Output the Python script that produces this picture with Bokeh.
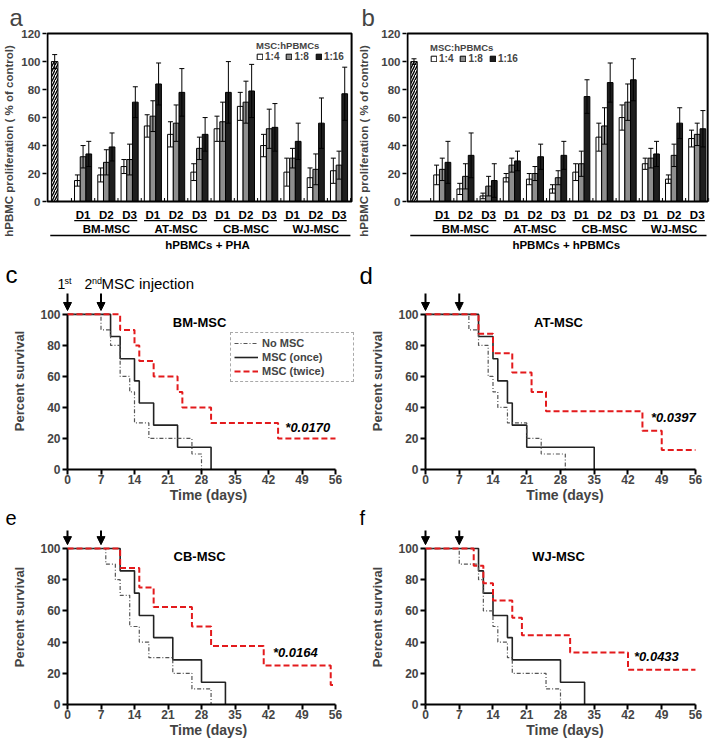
from bokeh.plotting import figure
from bokeh.layouts import column, row
from bokeh.models import (Legend, LegendItem, FixedTicker, Arrow, NormalHead,
                          Whisker, TeeHead, ColumnDataSource)
from bokeh.core.properties import value
from bokeh.embed import file_html
from bokeh.resources import INLINE

FONT = "Liberation Sans"

# ---------------- data: bar panels ----------------
msc_types = ["BM-MSC", "AT-MSC", "CB-MSC", "WJ-MSC"]
day_labels = ["D1", "D2", "D3"]
ratio_labels = ["1:4", "1:8", "1:16"]
ratio_colors = ["#ffffff", "#8e8e8e", "#1e1e1e"]

# panel a: hPBMCs + PHA (order: BM D1-D3, AT D1-D3, CB D1-D3, WJ D1-D3)
a_control, a_control_err = 100, 5
a_r4 = [15, 19, 25, 54, 48, 21, 52, 68, 40, 21, 17, 22]
a_r4_err = [4, 5, 5, 8, 9, 6, 9, 10, 8, 10, 7, 9]
a_r8 = [32, 28, 30, 61, 56, 38, 57, 71, 52, 31, 23, 26]
a_r8_err = [8, 9, 11, 11, 13, 8, 14, 15, 14, 7, 11, 10]
a_r16 = [34, 39, 71, 84, 78, 48, 78, 79, 53, 43, 56, 77]
a_r16_err = [9, 10, 11, 15, 17, 12, 22, 19, 17, 13, 18, 19]

# panel b: hPBMCs + hPBMCs
b_control, b_control_err = 100, 2
b_r4 = [19, 9, 4, 17, 16, 9, 21, 46, 60, 27, 16, 45]
b_r4_err = [7, 4, 2, 3, 4, 3, 6, 10, 9, 4, 3, 6]
b_r8 = [23, 18, 11, 26, 20, 17, 27, 54, 71, 31, 33, 48]
b_r8_err = [8, 9, 7, 5, 5, 5, 9, 13, 13, 7, 8, 8]
b_r16 = [28, 33, 15, 29, 32, 33, 75, 85, 87, 34, 56, 52]
b_r16_err = [15, 16, 12, 7, 9, 10, 12, 14, 15, 9, 11, 13]

# ---------------- data: survival panels ----------------
injection_days = [0, 7]
surv_ticks = [0, 7, 14, 21, 28, 35, 42, 49, 56]

c_none_t = [7, 9, 11, 13, 14, 17, 26, 28]
c_none_s = [90, 80, 60, 50, 30, 20, 10, 0]
c_once_t = [9, 11, 14, 15, 18, 23, 30]
c_once_s = [85.7, 71.4, 57.1, 42.9, 28.6, 14.3, 0]
c_twice_t = [11, 14, 15, 18, 23, 24, 30, 44]
c_twice_s = [90, 80, 70, 60, 50, 40, 30, 20]

d_none_t = [9, 11, 13, 14, 15, 17, 21, 24, 29]
d_none_s = [90, 80, 60, 50, 40, 30, 20, 10, 0]
d_once_t = [11, 14, 15, 17, 18, 21, 35]
d_once_s = [85.7, 71.4, 57.1, 42.9, 28.6, 14.3, 0]
d_twice_t = [11, 14, 18, 22, 25, 45, 49]
d_twice_s = [87.5, 75, 62.5, 50, 37.5, 25, 12.5]

e_none_t = [8, 10, 11, 13, 15, 17, 22, 26, 30]
e_none_s = [90, 80, 70, 50, 40, 30, 20, 10, 0]
e_once_t = [11, 14, 15, 18, 22, 28, 33]
e_once_s = [85.7, 71.4, 57.1, 42.9, 28.6, 14.3, 0]
e_twice_t = [11, 15, 18, 26, 30, 41, 55]
e_twice_s = [87.5, 75, 62.5, 50, 37.5, 25, 12.5]

f_none_t = [7, 11, 12, 14, 15, 17, 18, 25, 28]
f_none_s = [90, 80, 60, 50, 40, 30, 20, 10, 0]
f_once_t = [11, 12, 14, 17, 18, 28, 33]
f_once_s = [85.7, 71.4, 57.1, 42.9, 28.6, 14.3, 0]
f_twice_t = [10, 12, 14, 18, 20, 30, 42]
f_twice_s = [88.9, 77.8, 66.7, 55.6, 44.4, 33.3, 22.2]

p_values = ["*0.0170", "*0.0397", "*0.0164", "*0.0433"]


def txt(p, x, y, s, size, style="bold", align="center", baseline="middle"):
    p.text(x=[x], y=[y], text=[s], text_font=value(FONT), text_font_size=size,
           text_font_style=style, text_align=align, text_baseline=baseline, text_color="black")


def bar_panel(letter, series, errs, control, control_err, bottom_title, b_left, b_right,
              x_range, box, legend_xy, ylab_standoff, title_offset):
    p = figure(width=355, height=250, title=letter, x_range=x_range, y_range=(-35, 121.5),
               x_axis_location=None, output_backend="svg", toolbar_location=None,
               min_border_left=b_left, min_border_right=b_right,
               min_border_top=31, min_border_bottom=0)
    p.title.align = "left"
    p.title.offset = title_offset
    p.title.standoff = 2
    p.title.text_font = FONT
    p.title.text_font_size = "24px"
    p.title.text_font_style = "normal"
    p.grid.visible = False
    p.outline_line_color = None
    ax = p.yaxis[0]
    ax.ticker = FixedTicker(ticks=[0, 20, 40, 60, 80, 100, 120])
    ax.bounds = (0, 137)
    ax.axis_line_color = None
    ax.major_tick_out = 4
    ax.major_tick_in = 0
    ax.major_tick_line_width = 1.5
    ax.minor_tick_line_color = None
    ax.major_label_standoff = 2
    ax.major_label_text_font = FONT
    ax.major_label_text_font_style = "bold"
    ax.major_label_text_font_size = "11.5px"
    ax.axis_label = "hPBMC proliferation ( % of control)"
    ax.axis_label_text_font = FONT
    ax.axis_label_text_font_style = "bold"
    ax.axis_label_text_font_size = "11.5px"
    ax.axis_label_standoff = ylab_standoff

    centers = list(range(1, 13))
    p.vbar(x=[-0.22], top=[control], width=0.28, bottom=0, fill_color="white",
           line_color="black", line_width=1, hatch_pattern="right_diagonal_line",
           hatch_color="black", hatch_scale=5, hatch_weight=1.4)
    bx, up, lo = [-0.22], [control + control_err], [control - control_err]
    renderers = []
    for k in range(3):
        xs = [c + (k - 1) * 0.245 for c in centers]
        r = p.vbar(x=xs, top=series[k], bottom=0, width=0.245, fill_color=ratio_colors[k],
                   line_color="black", line_width=1)
        renderers.append(r)
        bx += xs
        up += [v + e for v, e in zip(series[k], errs[k])]
        lo += [v - e for v, e in zip(series[k], errs[k])]
    src = ColumnDataSource(dict(base=bx, upper=up, lower=lo))
    w = Whisker(source=src, base="base", upper="upper", lower="lower", dimension="height",
                line_color="black", line_width=1, level="overlay",
                upper_head=TeeHead(size=5, line_color="black", line_width=1),
                lower_head=TeeHead(size=5, line_color="black", line_width=1))
    p.add_layout(w)
    tx = [c + 0.5 for c in [0] + centers]
    p.segment(x0=tx, y0=[0] * len(tx), x1=tx, y1=[2.5] * len(tx), line_color="black", line_width=1)
    p.quad(left=[box[0]], right=[box[1]], bottom=[0], top=[120], fill_color=None,
           line_color="black", line_width=2)
    for i, c in enumerate(centers):
        txt(p, c, -9.3, day_labels[i % 3], "11.5px")
    for g in range(4):
        c0, c1 = centers[3 * g], centers[3 * g + 2]
        p.segment(x0=[c0 - 0.38], y0=[-13.6], x1=[c1 + 0.33], y1=[-13.6], line_color="black", line_width=1.2)
        txt(p, (c0 + c1) / 2, -19.3, msc_types[g], "11.5px")
    p.segment(x0=[box[0] + 0.12], y0=[-24.3], x1=[box[1] - 0.05], y1=[-24.3], line_color="black", line_width=1.5)
    txt(p, 6.35, -30.8, bottom_title, "11.5px")
    leg = Legend(items=[LegendItem(label=ratio_labels[k], renderers=[renderers[k]]) for k in range(3)],
                 orientation="horizontal", location=legend_xy, title="MSC:hPBMCs",
                 title_text_font=FONT, title_text_font_style="bold", title_text_font_size="9.5px",
                 label_text_font=FONT, label_text_font_style="bold", label_text_font_size="10px",
                 glyph_width=7, glyph_height=7, label_standoff=2, spacing=6, padding=2, margin=0,
                 label_height=10, label_width=0, title_standoff=0, background_fill_alpha=0,
                 border_line_color=None)
    p.add_layout(leg)
    return p


def strip(height):
    """A blank full-width band (frame = whole canvas, 1 unit = 1 px) for panel letters."""
    s = figure(width=710, height=height, x_range=(0, 710), y_range=(0, height), title=None,
               x_axis_location=None, y_axis_location=None, output_backend="svg",
               toolbar_location=None, min_border_left=0, min_border_right=0,
               min_border_top=0, min_border_bottom=0)
    s.grid.visible = False
    s.outline_line_color = None
    return s


def km(times, surv):
    xs = [0] + list(times)
    ys = [100] + list(surv)
    if ys[-1] > 0:
        xs.append(56)
        ys.append(ys[-1])
    return xs, ys


def surv_panel(name, curves, pval, pval_x, pval_y, b_left, x_range, height, b_bottom, y_top,
               arrow_top, show_legend=False):
    p = figure(width=355, height=height, x_range=x_range, y_range=(0, y_top), title=None,
               output_backend="svg", toolbar_location=None,
               min_border_left=b_left, min_border_right=1, min_border_top=0,
               min_border_bottom=b_bottom)
    p.grid.visible = False
    p.outline_line_color = None
    for ax, ticks, bounds in ((p.xaxis[0], surv_ticks, (0, 56)),
                              (p.yaxis[0], [0, 20, 40, 60, 80, 100], (0, 100))):
        ax.ticker = FixedTicker(ticks=ticks)
        ax.bounds = bounds
        ax.axis_line_width = 2
        ax.axis_line_color = "black"
        ax.major_tick_line_width = 2
        ax.major_tick_out = 5
        ax.major_tick_in = 0
        ax.minor_tick_line_color = None
        ax.major_label_text_font = FONT
        ax.major_label_text_font_style = "bold"
        ax.major_label_text_font_size = "12px"
        ax.axis_label_text_font = FONT
        ax.axis_label_text_font_style = "bold"
    # the y axis sits 5 px left of day 0: its ticks point inwards up to the day-0 line
    p.yaxis.axis_line_color = None
    p.yaxis.major_tick_out = 0
    p.yaxis.major_tick_in = 5
    p.xaxis.axis_label = "Time (days)"
    p.xaxis.axis_label_text_font_size = "14px"
    p.xaxis.major_label_standoff = 0
    p.xaxis.axis_label_standoff = 0
    p.yaxis.axis_label = "Percent survival"
    p.yaxis.axis_label_text_font_size = "13px"
    p.yaxis.major_label_standoff = 2
    p.yaxis.axis_label_standoff = 10
    p.segment(x0=[0], y0=[0], x1=[0], y1=[100], line_color="black", line_width=2)

    (nt, ns), (ot, os_), (tt, ts) = curves
    x, y = km(ot, os_)
    r_once = p.step(x, y, mode="after", line_color="#222222", line_width=1.6)
    x, y = km(nt, ns)
    r_none = p.step(x, y, mode="after", line_color="#555555", line_width=1.2, line_dash="4 2 1 2")
    x, y = km(tt, ts)
    r_twice = p.step(x, y, mode="after", line_color="#e31a1c", line_width=2, line_dash="6 3")

    txt(p, 27.6, 95, name, "13px")
    txt(p, pval_x, pval_y, pval, "13px", style="bold italic")

    for d in injection_days:
        p.add_layout(Arrow(end=NormalHead(size=8, fill_color="black", line_color="black", line_width=1),
                           x_start=d, y_start=arrow_top, x_end=d, y_end=102.5,
                           line_width=2, line_color="black"))
    if show_legend:
        leg = Legend(items=[LegendItem(label="No MSC", renderers=[r_none]),
                            LegendItem(label="MSC (once)", renderers=[r_once]),
                            LegendItem(label="MSC (twice)", renderers=[r_twice])],
                     location=(168, 87), label_text_font=FONT, label_text_font_style="bold",
                     label_text_font_size="11px", glyph_width=24, glyph_height=14,
                     label_height=14, label_width=88, label_standoff=4, spacing=0, padding=3,
                     margin=0, border_line_color="#555555", border_line_dash="dotted",
                     border_line_width=1, background_fill_color="white", background_fill_alpha=1)
        p.add_layout(leg)
    return p


pa = bar_panel("a", [a_r4, a_r8, a_r16], [a_r4_err, a_r8_err, a_r16_err], a_control, a_control_err,
               "hPBMCs + PHA", 42, 1, (-0.572, 12.665), (-0.53, 12.54), (210, 188), 3, -37)
pb = bar_panel("b", [b_r4, b_r8, b_r16], [b_r4_err, b_r8_err, b_r16_err], b_control, b_control_err,
               "hPBMCs + hPBMCs", 47, 1, (-0.543, 12.53), (-0.5, 12.45), (24, 186), 8, -45)

# band with letters c, d and the injection caption (vertically centred texts)
s1 = strip(42)
txt(s1, 5, 18.4, "c", "24px", style="normal", align="left")
txt(s1, 359, 17, "d", "24px", style="normal", align="left")
txt(s1, 57, 8.5, "1", "14px", style="normal", align="left")
txt(s1, 64, 12, "st", "9px", style="normal", align="left")
txt(s1, 84, 8.5, "2", "14px", style="normal", align="left")
txt(s1, 91.5, 12, "nd", "9px", style="normal", align="left")
txt(s1, 101, 9.5, "MSC injection", "15px", style="normal", align="left")

# band with letters e, f
s2 = strip(24)
txt(s2, 5, 12, "e", "20px", style="normal", align="left")
txt(s2, 359, 12, "f", "20px", style="normal", align="left")

row2 = dict(height=213, b_bottom=35, y_top=114.1, arrow_top=113.5)
row3 = dict(height=211, b_bottom=36, y_top=112.2, arrow_top=111.6)
left_x = (-1.045, 59.97)
right_x = (-1.037, 58.91)

pc = surv_panel("BM-MSC", ((c_none_t, c_none_s), (c_once_t, c_once_s), (c_twice_t, c_twice_s)),
                p_values[0], 50.2, 27, 62, left_x, show_legend=True, **row2)
pd_ = surv_panel("AT-MSC", ((d_none_t, d_none_s), (d_once_t, d_once_s), (d_twice_t, d_twice_s)),
                 p_values[1], 51.4, 33.5, 65, right_x, **row2)
pe = surv_panel("CB-MSC", ((e_none_t, e_none_s), (e_once_t, e_once_s), (e_twice_t, e_twice_s)),
                p_values[2], 47.6, 33.5, 62, left_x, **row3)
pf = surv_panel("WJ-MSC", ((f_none_t, f_none_s), (f_once_t, f_once_s), (f_twice_t, f_twice_s)),
                p_values[3], 47.9, 31, 65, right_x, **row3)

layout = column(row(pa, pb), s1, row(pc, pd_), s2, row(pe, pf))
with open("out.html", "w") as fh:
    fh.write(file_html(layout, INLINE))
